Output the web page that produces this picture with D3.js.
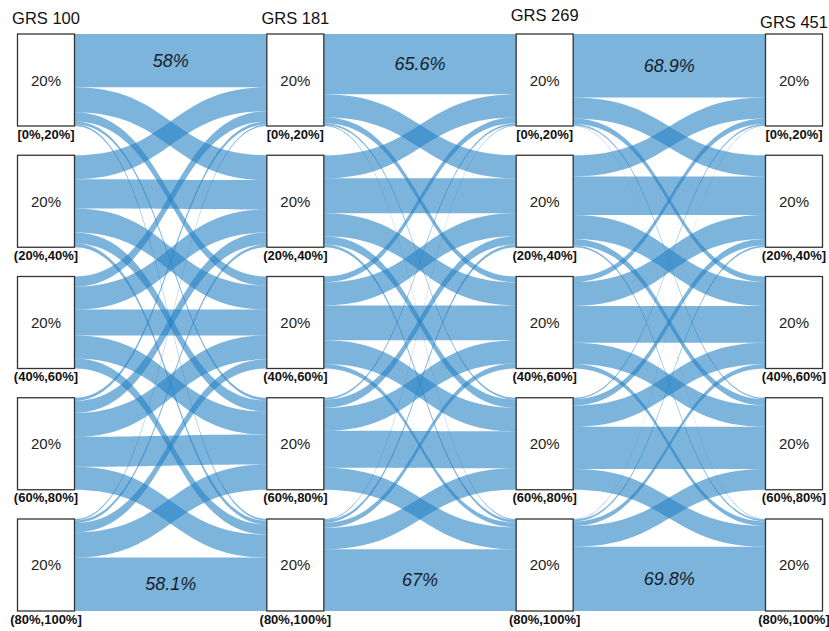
<!DOCTYPE html>
<html>
<head>
<meta charset="utf-8">
<script src="https://cdn.jsdelivr.net/npm/d3@7"></script>
<style>
  html, body { margin: 0; padding: 0; background: #fff; }
  svg { display: block; font-family: "Liberation Sans", Arial, sans-serif; }
</style>
</head>
<body>
<svg id="chart" width="829" height="631"></svg>
<script>
// Survey waves (columns) and quintile groups (strata)
const waves = ["GRS 100", "GRS 181", "GRS 269", "GRS 451"];
const quintiles = ["[0%,20%]", "(20%,40%]", "(40%,60%]", "(60%,80%]", "(80%,100%]"];
const quintileShare = [20, 20, 20, 20, 20];

// Transition shares (% of each origin quintile going to each destination quintile)
const trans100to181 = [
  [58.0, 27.0, 10.0,  3.0,  2.0],
  [26.0, 32.0, 26.0, 12.0,  4.0],
  [11.0, 25.0, 28.0, 25.0, 11.0],
  [ 3.5, 13.0, 26.0, 32.6, 24.9],
  [ 1.5,  3.0, 10.0, 27.4, 58.1]
];
const trans181to269 = [
  [65.6, 25.0,  6.4,  2.0,  1.0],
  [25.0, 38.0, 25.0,  9.0,  3.0],
  [ 6.4, 25.0, 38.0, 25.6,  5.0],
  [ 2.0,  9.0, 25.0, 40.0, 24.0],
  [ 1.0,  3.0,  5.6, 23.4, 67.0]
];
const trans269to451 = [
  [68.9, 23.0,  6.0,  1.5,  0.6],
  [23.0, 42.0, 26.0,  7.0,  2.0],
  [ 6.0, 26.0, 40.0, 23.0,  5.0],
  [ 1.5,  7.0, 23.0, 45.9, 22.6],
  [ 0.6,  2.0,  5.0, 22.6, 69.8]
];
const transitions = [trans100to181, trans181to269, trans269to451];

const svg = d3.select("#chart");
const boxW = 57;

const xCenter = d3.scalePoint().domain(waves).range([46, 794]);
const y = d3.scaleBand().domain(quintiles).range([34, 611]).paddingInner(0.2412).paddingOuter(0);
const bw = y.bandwidth();
const hScale = d3.scaleLinear().domain([0, 100]).range([0, bw]);

const flowColor = "rgb(38,130,197)";

// Ribbon between two vertical intervals with sigmoid edges
function ribbon(x0, y0t, y0b, x1, y1t, y1b) {
  const xm = (x0 + x1) / 2;
  const p = d3.path();
  p.moveTo(x0, y0t);
  p.bezierCurveTo(xm, y0t, xm, y1t, x1, y1t);
  p.lineTo(x1, y1b);
  p.bezierCurveTo(xm, y1b, xm, y0b, x0, y0b);
  p.closePath();
  return p.toString();
}

const flowLayer = svg.append("g");
const labelLayer = svg.append("g");

transitions.forEach((M, s) => {
  const x0 = xCenter(waves[s]) + boxW / 2;
  const x1 = xCenter(waves[s + 1]) - boxW / 2;
  const outOff = quintiles.map(() => 0);
  const inOff = quintiles.map(() => 0);
  const flows = [];
  M.forEach((row, i) => {
    row.forEach((v, j) => {
      const h = hScale(v);
      const y0 = y(quintiles[i]) + outOff[i];
      const y1 = y(quintiles[j]) + inOff[j];
      outOff[i] += h;
      inOff[j] += h;
      flows.push({ i, j, v, y0, y1, h });
    });
  });

  flowLayer.selectAll(null)
    .data(flows)
    .join("path")
    .attr("d", d => ribbon(x0, d.y0, d.y0 + d.h, x1, d.y1, d.y1 + d.h))
    .attr("fill", flowColor)
    .attr("fill-opacity", 0.6);

  // Stay-in-place shares for the lowest and highest quintile
  const stay = flows.filter(d => d.i === d.j && (d.i === 0 || d.i === quintiles.length - 1));
  labelLayer.selectAll(null)
    .data(stay)
    .join("text")
    .attr("x", (x0 + x1) / 2)
    .attr("y", d => d.y0 + d.h / 2)
    .attr("text-anchor", "middle")
    .attr("dominant-baseline", "central")
    .attr("font-size", 18)
    .attr("font-style", "italic")
    .attr("fill", "#151d2b")
    .text(d => d.v + "%");
});

// Strata boxes
const titleBaseline = [24, 24, 21, 28];
waves.forEach((w, c) => {
  const g = svg.append("g");
  const cx = xCenter(w);
  g.append("text")
    .attr("x", cx)
    .attr("y", titleBaseline[c])
    .attr("text-anchor", "middle")
    .attr("font-size", 16.5)
    .attr("fill", "#111")
    .text(w);

  const cells = g.selectAll("g.cell")
    .data(quintiles.map((q, k) => ({ q, share: quintileShare[k] })))
    .join("g")
    .attr("class", "cell");

  cells.append("rect")
    .attr("x", cx - boxW / 2)
    .attr("y", d => y(d.q))
    .attr("width", boxW)
    .attr("height", bw)
    .attr("fill", "#fff")
    .attr("stroke", "#333")
    .attr("stroke-width", 1.3);

  cells.append("text")
    .attr("x", cx)
    .attr("y", d => y(d.q) + bw / 2)
    .attr("text-anchor", "middle")
    .attr("dominant-baseline", "central")
    .attr("font-size", 15)
    .attr("fill", "#222")
    .text(d => d.share + "%");

  cells.append("text")
    .attr("x", cx)
    .attr("y", d => y(d.q) + bw + 12.5)
    .attr("text-anchor", "middle")
    .attr("font-size", 13)
    .attr("font-weight", "bold")
    .attr("fill", "#111")
    .text(d => d.q);
});
</script>
</body>
</html>
